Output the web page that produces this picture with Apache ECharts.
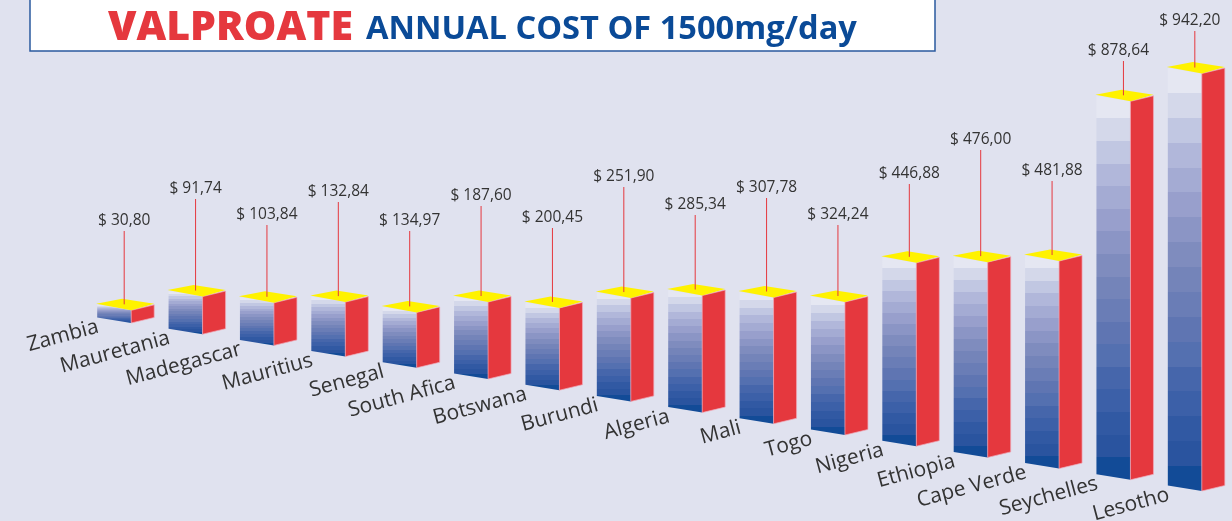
<!DOCTYPE html>
<html>
<head>
<meta charset="utf-8">
<title>Valproate annual cost</title>
<script src="https://cdn.jsdelivr.net/npm/echarts@6/dist/echarts.min.js"></script>
<style>
  html, body { margin: 0; padding: 0; background: #e0e2ef; }
  #main { width: 1232px; height: 521px; }
</style>
</head>
<body>
<div id="main"></div>
<script>
var categories = ['Zambia', 'Mauretania', 'Madegascar', 'Mauritius', 'Senegal', 'South Afica', 'Botswana', 'Burundi',
  'Algeria', 'Mali', 'Togo', 'Nigeria', 'Ethiopia', 'Cape Verde', 'Seychelles', 'Lesotho'];
var costs = [30.80, 91.74, 103.84, 132.84, 134.97, 187.60, 200.45, 251.90,
  285.34, 307.78, 324.24, 446.88, 476.00, 481.88, 878.64, 942.20];

// layout of the pseudo 3d bars, in pixels
var labelY = [220, 188, 214, 191, 220, 195, 217, 176, 204, 187, 214, 173, 139, 170, 50, 20];
var bandColors = ['#e5e7f2', '#d4d8ea', '#c1c7e2', '#b1b7da', '#a4abd3', '#989fcc', '#8b95c5', '#7f8cbe', '#7484b9',
  '#6a7db6', '#5f75b2', '#5470b0', '#4666ab', '#3c60a8', '#3159a3', '#2a549f', '#124b97'];
var baseStart = 323, baseStep = 11.2;
var frontW = 34, sideW = 23, skew = 5.5;

function money(v) {
  return '$ ' + v.toFixed(2).replace('.', ',');
}

function bandStops() {
  var stops = [], n = bandColors.length;
  bandColors.forEach(function (c, k) {
    stops.push({ offset: k / n, color: c });
    stops.push({ offset: (k + 1) / n, color: c });
  });
  return stops;
}

function renderBar(params, api) {
  var i = api.value(0);
  var v = api.value(1);
  // the last bars are drawn a bit taller in the picture
  var grow = i > 12 ? (i === 15 ? 1.08 : 1.05) : 1;
  var h = api.size([0, v])[1] * grow;
  var cx = api.coord([i, 0])[0];
  var left = cx - (frontW + sideW) / 2;
  var corner = left + frontW;
  var right = corner + sideW;
  var bottom = baseStart + baseStep * i;
  var top = bottom - h;
  var lineX = left + 27;

  return {
    type: 'group',
    children: [
      {
        type: 'polygon',
        shape: { points: [[left, top - skew], [corner, top], [corner, bottom], [left, bottom - skew]] },
        style: { fill: new echarts.graphic.LinearGradient(0, 0, 0, 1, bandStops()) }
      },
      {
        type: 'polygon',
        shape: { points: [[corner, top], [right, top - skew], [right, bottom - skew], [corner, bottom]] },
        style: { fill: '#e5383e', stroke: 'rgba(240,170,185,0.7)', lineWidth: 1 }
      },
      {
        type: 'polygon',
        shape: { points: [[left - 1, top - skew - 1], [corner, top], [right, top - skew - 1], [left + 25, top - 11.5]] },
        style: { fill: '#fff200' }
      },
      {
        type: 'line',
        shape: { x1: lineX, y1: top - 6, x2: lineX, y2: labelY[i] + 11 },
        style: { stroke: '#e5383e', lineWidth: 1 }
      },
      {
        type: 'text',
        x: i > 13 ? lineX - 5 : lineX,
        y: labelY[i] + 1,
        style: { text: money(v), fill: '#333', font: '15.5px "Open Sans"', align: 'center', verticalAlign: 'middle' }
      },
      {
        type: 'text',
        x: left + 1,
        y: bottom - skew + 9,
        rotation: 15 * Math.PI / 180,
        style: { text: categories[i], fill: '#333', font: '21px "Open Sans"', align: 'right', verticalAlign: 'middle' }
      }
    ]
  };
}

var chart = echarts.init(document.getElementById('main'));
chart.setOption({
  backgroundColor: '#e0e2ef',
  animation: false,
  title: [
    { text: 'VALPROATE', left: 103, top: 3, textStyle: { color: '#e5383e', fontFamily: 'Open Sans', fontWeight: 800, fontSize: 41 } },
    { text: 'ANNUAL COST OF 1500mg/day', left: 361, top: 8, textStyle: { color: '#0a4a97', fontFamily: 'Open Sans', fontWeight: 'bold', fontSize: 32.6 } }
  ],
  grid: { left: 90, right: 0, top: 0, bottom: 0 },
  xAxis: { type: 'category', data: categories, show: false },
  yAxis: { type: 'value', min: 0, max: 1270, show: false },
  graphic: [{
    type: 'rect',
    z: -1,
    shape: { x: 30, y: -2, width: 905, height: 53 },
    style: { fill: '#fff', stroke: '#2a5a9f', lineWidth: 1.5 }
  }],
  series: [{
    type: 'custom',
    clip: false,
    renderItem: renderBar,
    encode: { x: 0, y: 1 },
    data: costs.map(function (v, i) { return [i, v]; })
  }]
});
</script>
</body>
</html>
